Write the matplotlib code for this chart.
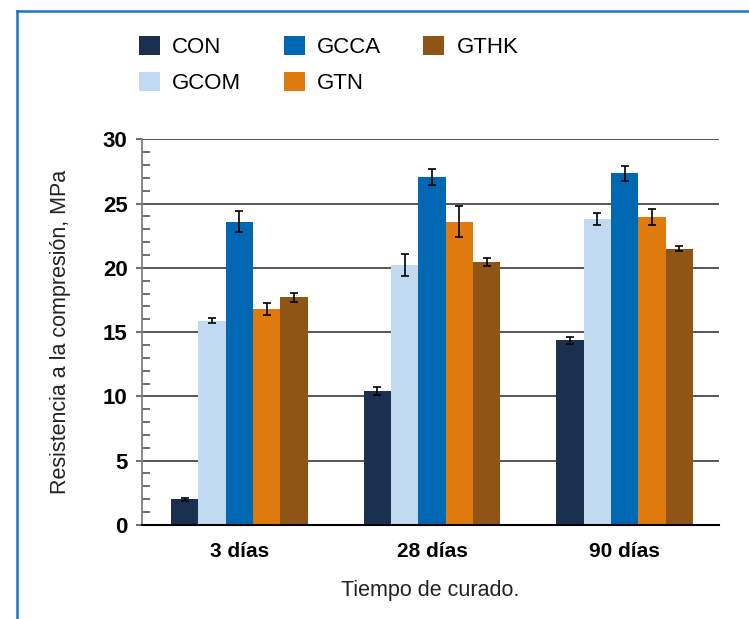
import numpy as np
import matplotlib.pyplot as plt
from matplotlib.lines import Line2D
from matplotlib.ticker import MultipleLocator

plt.rcParams['font.family'] = ['Liberation Sans', 'DejaVu Sans']

# datos
dias = ['3 días', '28 días', '90 días']
series = ['CON', 'GCOM', 'GCCA', 'GTN', 'GTHK']
colores = ['#1b2f4f', '#c1daf2', '#0068b3', '#df7a0c', '#8e5515']

con = [2.0, 10.4, 14.35]
gcom = [15.9, 20.2, 23.8]
gcca = [23.6, 27.1, 27.35]
gtn = [16.8, 23.6, 23.95]
gthk = [17.7, 20.45, 21.5]

err_con = [0.12, 0.3, 0.3]
err_gcom = [0.2, 0.85, 0.5]
err_gcca = [0.85, 0.62, 0.6]
err_gtn = [0.45, 1.2, 0.65]
err_gthk = [0.35, 0.3, 0.18]

valores = [con, gcom, gcca, gtn, gthk]
errores = [err_con, err_gcom, err_gcca, err_gtn, err_gthk]


def main():
    fig = plt.figure(figsize=(7.49, 6.19), dpi=100)
    ax = fig.add_axes([0.189, 0.152, 0.771, 0.623])

    x = np.arange(len(dias))
    w = 0.142
    handles = []
    for i, (v, e) in enumerate(zip(valores, errores)):
        b = ax.bar(x + (i - 2) * w, v, w, color=colores[i], label=series[i],
                   zorder=3, linewidth=0)
        ax.errorbar(x + (i - 2) * w, v, yerr=e, fmt='none', ecolor='black',
                    elinewidth=1.2, capsize=3, capthick=1.2, zorder=4)
        handles.append(b)

    ax.set_xlim(-0.508, 2.49)
    ax.set_ylim(0, 30)
    ax.yaxis.set_major_locator(MultipleLocator(5))
    ax.yaxis.set_minor_locator(MultipleLocator(1))
    ax.grid(axis='y', which='major', color='#3a3a3a', linewidth=1.2, zorder=1)

    for s in ['top', 'right']:
        ax.spines[s].set_visible(False)
    ax.spines['left'].set_color('#808080')
    ax.spines['left'].set_linewidth(1.3)
    ax.spines['bottom'].set_color('black')
    ax.spines['bottom'].set_linewidth(1.5)
    ax.spines['bottom'].set_zorder(5)

    ax.tick_params(axis='y', which='major', direction='out', length=4,
                   width=1.2, color='#555555', labelsize=16, pad=6)
    ax.tick_params(axis='y', which='minor', direction='in', length=5.5,
                   width=1.2, color='#555555')
    ax.tick_params(axis='x', length=0, labelsize=15, pad=12)
    for t in ax.get_yticklabels():
        t.set_fontweight('bold')
    ax.set_xticks(x)
    ax.set_xticklabels(dias, fontweight='bold')

    ax.set_ylabel('Resistencia a la compresión, MPa', fontsize=15.5,
                  labelpad=23, color='#222222')
    ax.set_xlabel('Tiempo de curado.', fontsize=15.5, labelpad=14,
                  color='#222222')

    fig.legend(handles=handles, loc='upper left',
               bbox_to_anchor=(139 / 749, 1 - 36 / 619), ncol=3,
               frameon=False, fontsize=16, handlelength=0.95, handleheight=0.95,
               handletextpad=0.55, columnspacing=1.9, labelspacing=0.6,
               borderpad=0, borderaxespad=0)

    # marco azul
    azul = '#1c74c9'
    fig.add_artist(Line2D([17 / 749, 17 / 749], [0, 1 - 11 / 619],
                          transform=fig.transFigure, color=azul, linewidth=1.8))
    fig.add_artist(Line2D([17 / 749, 1], [1 - 11 / 619, 1 - 11 / 619],
                          transform=fig.transFigure, color=azul, linewidth=1.8))

    fig.savefig('out.png', dpi=100)


if __name__ == '__main__':
    main()
